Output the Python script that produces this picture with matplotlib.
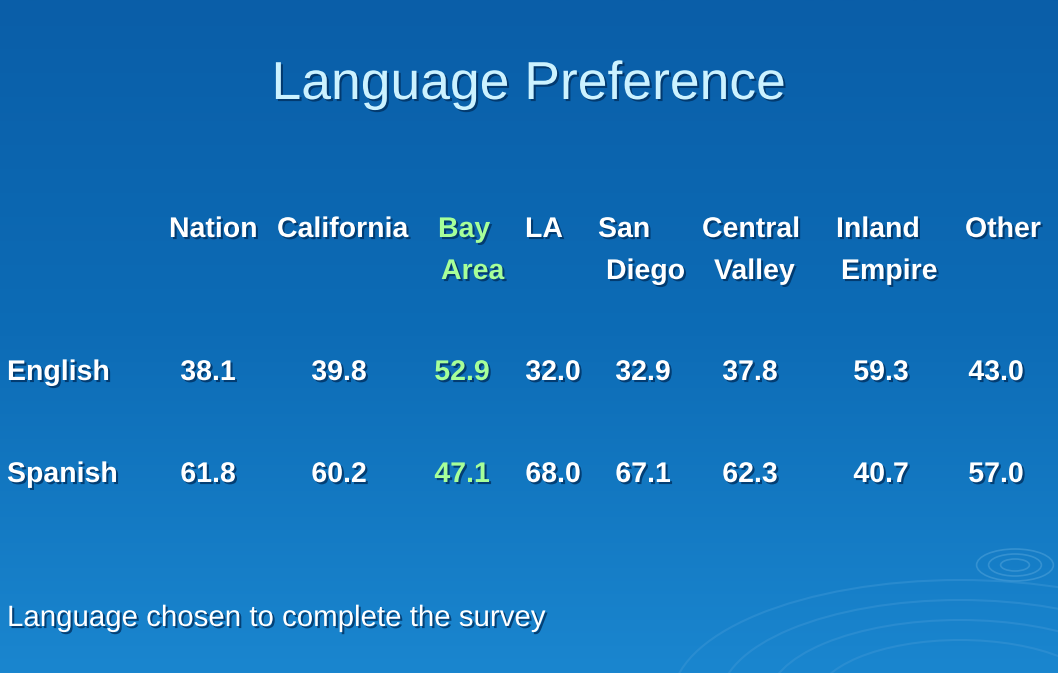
import numpy as np
import matplotlib.pyplot as plt
import matplotlib.patheffects as pe
from matplotlib.patches import Ellipse
from matplotlib.colors import LinearSegmentedColormap

header_line1 = ["Nation", "California", "Bay", "LA", "San", "Central", "Inland", "Other"]
header_line2 = ["", "", "Area", "", "Diego", "Valley", "Empire", ""]
header_x1 = [169, 277, 438, 525, 598, 702, 836, 965]
header_x2 = [169, 277, 441, 525, 606, 714, 841, 965]
rows = ["English", "Spanish"]
english = [38.1, 39.8, 52.9, 32.0, 32.9, 37.8, 59.3, 43.0]
spanish = [61.8, 60.2, 47.1, 68.0, 67.1, 62.3, 40.7, 57.0]
value_x = [208, 339, 462, 553, 643, 750, 881, 996]
highlight = 2

fig = plt.figure(figsize=(10.58, 6.73), dpi=100)
ax = fig.add_axes([0, 0, 1, 1])
ax.set_xlim(0, 1058); ax.set_ylim(673, 0); ax.axis('off')
grad = np.linspace(0, 1, 256)[:, None]
cmap = LinearSegmentedColormap.from_list('bg', ['#0a5ea8', '#0d6cb6', '#1a86cf'])
ax.imshow(grad, extent=[0, 1058, 673, 0], cmap=cmap, aspect='auto', zorder=0)

for r in [12, 22, 32]:
    ax.add_patch(Ellipse((1015, 565), r*2.4, r, fill=False, ec='#4a9fd8', lw=1.2, alpha=0.6))
for r in [120, 160, 200, 240]:
    ax.add_patch(Ellipse((960, 700), r*2.4, r, fill=False, ec='#3a95d5', lw=1.5, alpha=0.5))

font = 'Liberation Sans'
shadow = [pe.withSimplePatchShadow(offset=(1.5, -1.5), shadow_rgbFace='#003060', alpha=0.8)]
dy = 3
ax.text(529, 82 + dy, "Language Preference", color='#ccf2ff', fontsize=38.5, family=font,
        ha='center', va='center', path_effects=shadow)

green = '#a6ff99'
fs = 20.5
for i in range(len(header_line1)):
    c = green if i == highlight else 'white'
    ax.text(header_x1[i], 227 + dy, header_line1[i], color=c, fontsize=fs, family=font,
            weight='bold', ha='left', va='center', path_effects=shadow)
    if header_line2[i]:
        ax.text(header_x2[i], 269 + dy, header_line2[i], color=c, fontsize=fs, family=font,
                weight='bold', ha='left', va='center', path_effects=shadow)

for ry, name, vals in [(370 + dy, rows[0], english), (472 + dy, rows[1], spanish)]:
    ax.text(7, ry, name, color='white', fontsize=fs, family=font, weight='bold', ha='left', va='center', path_effects=shadow)
    for i, (v, x) in enumerate(zip(vals, value_x)):
        ax.text(x, ry, f"{v:.1f}", color=green if i == highlight else 'white', fontsize=fs, family=font,
                weight='bold', ha='center', va='center', path_effects=shadow)

ax.text(7, 615 + dy, "Language chosen to complete the survey", color='white', fontsize=21.2, family=font,
        ha='left', va='center', path_effects=shadow)
fig.savefig('out.png', dpi=100)
